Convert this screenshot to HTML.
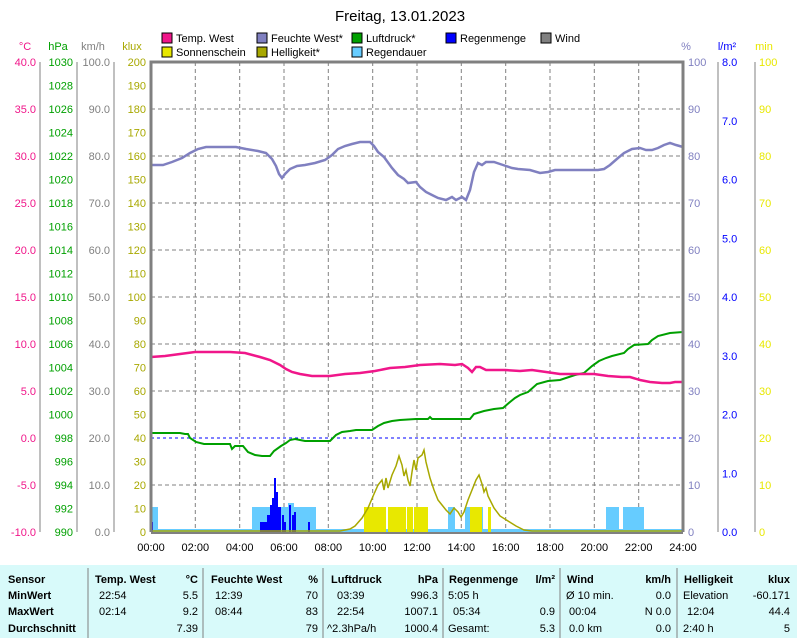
<!DOCTYPE html>
<html><head><meta charset="utf-8"><style>
body{margin:0;width:797px;height:638px;background:#fff;overflow:hidden;font-family:"Liberation Sans",sans-serif}
svg text{font-family:"Liberation Sans",sans-serif}
</style></head><body>
<svg width="797" height="638" xmlns="http://www.w3.org/2000/svg" font-size="12">
<text x="400" y="21" text-anchor="middle" font-size="15" fill="#000">Freitag, 13.01.2023</text>
<!-- legend -->
<g font-size="11" fill="#000">
<rect x="162" y="33" width="10" height="10" fill="#f0168a" stroke="#000"/><text x="176" y="42">Temp. West</text>
<rect x="257" y="33" width="10" height="10" fill="#8080c0" stroke="#000"/><text x="271" y="42">Feuchte West*</text>
<rect x="352" y="33" width="10" height="10" fill="#00a000" stroke="#000"/><text x="366" y="42">Luftdruck*</text>
<rect x="446" y="33" width="10" height="10" fill="#0000ff" stroke="#000"/><text x="460" y="42">Regenmenge</text>
<rect x="541" y="33" width="10" height="10" fill="#808080" stroke="#000"/><text x="555" y="42">Wind</text>
<rect x="162" y="47" width="10" height="10" fill="#e8e800" stroke="#000"/><text x="176" y="56">Sonnenschein</text>
<rect x="257" y="47" width="10" height="10" fill="#a8a800" stroke="#000"/><text x="271" y="56">Helligkeit*</text>
<rect x="352" y="47" width="10" height="10" fill="#66ccff" stroke="#000"/><text x="366" y="56">Regendauer</text>
</g>
<!-- axis unit labels -->
<g font-size="11">
<text x="25" y="50" text-anchor="middle" fill="#f0168a">°C</text>
<text x="58" y="50" text-anchor="middle" fill="#00a000">hPa</text>
<text x="93" y="50" text-anchor="middle" fill="#808080">km/h</text>
<text x="132" y="50" text-anchor="middle" fill="#a8a800">klux</text>
<text x="686" y="50" text-anchor="middle" fill="#8080c0">%</text>
<text x="727" y="50" text-anchor="middle" fill="#0000ff">l/m²</text>
<text x="764" y="50" text-anchor="middle" fill="#e8e800">min</text>
</g>
<!-- grid -->
<g stroke="#808080" stroke-dasharray="4,3" stroke-width="1">
<path d="M151 109H683M151 156H683M151 203H683M151 250H683M151 297H683M151 344H683M151 391H683M151 485H683"/>
<path d="M195.3 62V532M239.7 62V532M284 62V532M328.3 62V532M372.7 62V532M417 62V532M461.3 62V532M505.7 62V532M550 62V532M594.3 62V532M638.7 62V532"/>
</g>
<line x1="151" y1="438" x2="683" y2="438" stroke="#0000ff" stroke-dasharray="3,3"/>
<!-- axes lines -->
<g stroke="#808080" stroke-width="1">
<line x1="40" y1="62" x2="40" y2="532"/><line x1="77" y1="62" x2="77" y2="532"/><line x1="114" y1="62" x2="114" y2="532"/>
<line x1="718" y1="62" x2="718" y2="532"/><line x1="755" y1="62" x2="755" y2="532"/>
</g>
<!-- bars -->
<g fill="#66ccff">
<rect x="151" y="507" width="7" height="25"/><rect x="252" y="507" width="64" height="25"/><rect x="288" y="503" width="6" height="5"/>
<rect x="448" y="507" width="7" height="25"/><rect x="465" y="507" width="18" height="25"/>
<rect x="606" y="507" width="13" height="25"/><rect x="623" y="507" width="21" height="25"/>
<rect x="151" y="529" width="532" height="3"/>
</g>
<g fill="#e8e800">
<rect x="364" y="507" width="22" height="25"/><rect x="388" y="507" width="18" height="25"/><rect x="407" y="507" width="6" height="25"/><rect x="414" y="507" width="14" height="25"/>
<rect x="470" y="507" width="12" height="25"/><rect x="488" y="507" width="3" height="25"/>
</g>
<g fill="#0000ff">
<rect x="151" y="522" width="2" height="10"/>
<rect x="260" y="522" width="7" height="10"/><rect x="267" y="515" width="3" height="17"/><rect x="270" y="505" width="2" height="27"/><rect x="272" y="498" width="2" height="34"/><rect x="274" y="478" width="2" height="54"/><rect x="276" y="492" width="2" height="40"/><rect x="278" y="507" width="3" height="25"/><rect x="282" y="515" width="2" height="17"/><rect x="284" y="522" width="2" height="10"/><rect x="289" y="505" width="2" height="27"/><rect x="292" y="515" width="2" height="17"/><rect x="294" y="512" width="2" height="20"/><rect x="308" y="522" width="2" height="10"/>
</g>
<!-- brightness -->
<polyline fill="none" stroke="#a8a800" stroke-width="1.5" points="151,531 340,531 350,529 355,526 362,518 368,508 374,494 378,485 382,480 384,490 386,478 388,488 392,475 396,466 399,456 402,465 404,476 406,470 408,480 410,486 412,472 414,460 416,470 418,458 422,455 424,450 426,462 430,478 434,490 438,500 442,505 446,510 450,514 454,508 458,512 461,517 464,512 468,500 472,490 476,480 479,475 482,484 484,492 486,488 488,496 490,500 494,508 500,516 508,521 516,526 524,530 532,531 683,531"/>
<!-- pressure -->
<polyline fill="none" stroke="#00a000" stroke-width="2" points="151,433 180,433 185,434 188,434 190,438 196,442 204,444 230,444 232,449 235,446 243,446 248,452 255,455 262,456 270,456 274,451 281,446 286,443 290,440 295,439 300,440 305,441 330,441 336,435 342,432 350,431 356,430 372,430 378,426 384,423 392,421 400,420 416,419 428,419 430,417 432,419 470,419 474,414 484,411 494,409 503,408 510,402 515,398 520,395 528,392 537,384 548,381 560,380 575,375 584,373 592,366 599,361 606,358 612,356 624,353 628,349 634,345 648,344 652,340 658,336 670,333 683,332"/>
<!-- temperature -->
<polyline fill="none" stroke="#f0168a" stroke-width="2.5" points="151,357 165,356 180,354 195,352 230,352 245,353 260,357 270,360 280,365 286,369 292,372 300,374 312,376 330,376 345,374 360,373 375,371 390,368 405,367 420,365 440,364 455,365 462,364 468,368 472,372 476,367 480,367 486,370 495,370 505,370 520,371 532,370 546,372 560,374 580,374 594,374 608,376 622,377 630,377 640,380 650,382 662,383 670,383 675,382 683,382"/>
<!-- humidity -->
<polyline fill="none" stroke="#8080c0" stroke-width="2.5" points="151,165 163,165 172,162 182,158 190,153 198,149 206,147 216,147 236,147 246,149 258,151 266,153 272,159 276,166 279,174 282,178 285,174 290,169 297,166 305,165 315,163 325,160 332,155 338,149 345,146 352,144 360,142 370,142 374,146 378,152 384,157 392,168 398,175 404,179 408,183 416,182 420,187 426,192 432,195 438,198 446,200 452,197 456,200 462,197 466,200 470,190 474,172 478,163 482,165 486,162 494,162 500,164 506,166 512,168 518,169 530,170 540,173 548,172 555,170 570,170 598,170 604,169 610,165 618,158 624,153 632,149 640,148 646,150 652,150 658,148 664,145 670,143 676,145 683,147"/>
<!-- plot frame (left, top, right, bottom thick) -->
<g stroke="#808080" stroke-width="3" fill="none">
<path d="M151 532V62H683V532"/>
<line x1="151" y1="533" x2="683" y2="533" stroke-width="2"/>
</g>
<!-- x labels -->
<g font-size="11" fill="#000" text-anchor="middle">
<text x="151" y="551">00:00</text><text x="195.3" y="551">02:00</text><text x="239.7" y="551">04:00</text><text x="284" y="551">06:00</text><text x="328.3" y="551">08:00</text><text x="372.7" y="551">10:00</text><text x="417" y="551">12:00</text><text x="461.3" y="551">14:00</text><text x="505.7" y="551">16:00</text><text x="550" y="551">18:00</text><text x="594.3" y="551">20:00</text><text x="638.7" y="551">22:00</text><text x="683" y="551">24:00</text>
</g>
<!-- °C -->
<g font-size="11" fill="#f0168a" text-anchor="end">
<text x="36" y="66">40.0</text><text x="36" y="113">35.0</text><text x="36" y="160">30.0</text><text x="36" y="207">25.0</text><text x="36" y="254">20.0</text><text x="36" y="301">15.0</text><text x="36" y="348">10.0</text><text x="36" y="395">5.0</text><text x="36" y="442">0.0</text><text x="36" y="489">-5.0</text><text x="36" y="536">-10.0</text>
</g>
<!-- hPa -->
<g font-size="11" fill="#00a000" text-anchor="end">
<text x="73" y="66">1030</text><text x="73" y="89.5">1028</text><text x="73" y="113">1026</text><text x="73" y="136.5">1024</text><text x="73" y="160">1022</text><text x="73" y="183.5">1020</text><text x="73" y="207">1018</text><text x="73" y="230.5">1016</text><text x="73" y="254">1014</text><text x="73" y="277.5">1012</text><text x="73" y="301">1010</text><text x="73" y="324.5">1008</text><text x="73" y="348">1006</text><text x="73" y="371.5">1004</text><text x="73" y="395">1002</text><text x="73" y="418.5">1000</text><text x="73" y="442">998</text><text x="73" y="465.5">996</text><text x="73" y="489">994</text><text x="73" y="512.5">992</text><text x="73" y="536">990</text>
</g>
<!-- km/h -->
<g font-size="11" fill="#808080" text-anchor="end">
<text x="110" y="66">100.0</text><text x="110" y="113">90.0</text><text x="110" y="160">80.0</text><text x="110" y="207">70.0</text><text x="110" y="254">60.0</text><text x="110" y="301">50.0</text><text x="110" y="348">40.0</text><text x="110" y="395">30.0</text><text x="110" y="442">20.0</text><text x="110" y="489">10.0</text><text x="110" y="536">0.0</text>
</g>
<!-- klux -->
<g font-size="11" fill="#a8a800" text-anchor="end">
<text x="146" y="66">200</text><text x="146" y="89.5">190</text><text x="146" y="113">180</text><text x="146" y="136.5">170</text><text x="146" y="160">160</text><text x="146" y="183.5">150</text><text x="146" y="207">140</text><text x="146" y="230.5">130</text><text x="146" y="254">120</text><text x="146" y="277.5">110</text><text x="146" y="301">100</text><text x="146" y="324.5">90</text><text x="146" y="348">80</text><text x="146" y="371.5">70</text><text x="146" y="395">60</text><text x="146" y="418.5">50</text><text x="146" y="442">40</text><text x="146" y="465.5">30</text><text x="146" y="489">20</text><text x="146" y="512.5">10</text><text x="146" y="536">0</text>
</g>
<!-- % -->
<g font-size="11" fill="#8080c0">
<text x="688" y="66">100</text><text x="688" y="113">90</text><text x="688" y="160">80</text><text x="688" y="207">70</text><text x="688" y="254">60</text><text x="688" y="301">50</text><text x="688" y="348">40</text><text x="688" y="395">30</text><text x="688" y="442">20</text><text x="688" y="489">10</text><text x="688" y="536">0</text>
</g>
<!-- l/m2 -->
<g font-size="11" fill="#0000ff">
<text x="722" y="66">8.0</text><text x="722" y="124.75">7.0</text><text x="722" y="183.5">6.0</text><text x="722" y="242.25">5.0</text><text x="722" y="301">4.0</text><text x="722" y="359.75">3.0</text><text x="722" y="418.5">2.0</text><text x="722" y="477.25">1.0</text><text x="722" y="536">0.0</text>
</g>
<!-- min -->
<g font-size="11" fill="#e8e800">
<text x="759" y="66">100</text><text x="759" y="113">90</text><text x="759" y="160">80</text><text x="759" y="207">70</text><text x="759" y="254">60</text><text x="759" y="301">50</text><text x="759" y="348">40</text><text x="759" y="395">30</text><text x="759" y="442">20</text><text x="759" y="489">10</text><text x="759" y="536">0</text>
</g>
<!-- table -->
<rect x="0" y="565" width="797" height="73" fill="#d8fafa"/>
<g stroke="#808080"><path d="M88 568V638M203 568V638M323 568V638M443 568V638M560 568V638M677 568V638"/></g>
<g font-size="11" fill="#000">
<g font-weight="bold"><text x="8" y="583">Sensor</text><text x="8" y="599">MinWert</text><text x="8" y="615">MaxWert</text><text x="8" y="632">Durchschnitt</text>
<text x="95" y="583">Temp. West</text><text x="198" y="583" text-anchor="end">°C</text>
<text x="211" y="583">Feuchte West</text><text x="318" y="583" text-anchor="end">%</text>
<text x="331" y="583">Luftdruck</text><text x="438" y="583" text-anchor="end">hPa</text>
<text x="449" y="583">Regenmenge</text><text x="555" y="583" text-anchor="end">l/m²</text>
<text x="567" y="583">Wind</text><text x="671" y="583" text-anchor="end">km/h</text>
<text x="684" y="583">Helligkeit</text><text x="790" y="583" text-anchor="end">klux</text></g>
<text x="99" y="599">22:54</text><text x="198" y="599" text-anchor="end">5.5</text>
<text x="99" y="615">02:14</text><text x="198" y="615" text-anchor="end">9.2</text>
<text x="198" y="632" text-anchor="end">7.39</text>
<text x="215" y="599">12:39</text><text x="318" y="599" text-anchor="end">70</text>
<text x="215" y="615">08:44</text><text x="318" y="615" text-anchor="end">83</text>
<text x="318" y="632" text-anchor="end">79</text>
<text x="337" y="599">03:39</text><text x="438" y="599" text-anchor="end">996.3</text>
<text x="337" y="615">22:54</text><text x="438" y="615" text-anchor="end">1007.1</text>
<text x="327" y="632">^2.3hPa/h</text><text x="438" y="632" text-anchor="end">1000.4</text>
<text x="448" y="599">5:05 h</text>
<text x="453" y="615">05:34</text><text x="555" y="615" text-anchor="end">0.9</text>
<text x="448" y="632">Gesamt:</text><text x="555" y="632" text-anchor="end">5.3</text>
<text x="566" y="599">Ø 10 min.</text><text x="671" y="599" text-anchor="end">0.0</text>
<text x="569" y="615">00:04</text><text x="671" y="615" text-anchor="end">N 0.0</text>
<text x="569" y="632">0.0 km</text><text x="671" y="632" text-anchor="end">0.0</text>
<text x="683" y="599">Elevation</text><text x="790" y="599" text-anchor="end">-60.171</text>
<text x="687" y="615">12:04</text><text x="790" y="615" text-anchor="end">44.4</text>
<text x="683" y="632">2:40 h</text><text x="790" y="632" text-anchor="end">5</text>
</g>
</svg>
</body></html>
